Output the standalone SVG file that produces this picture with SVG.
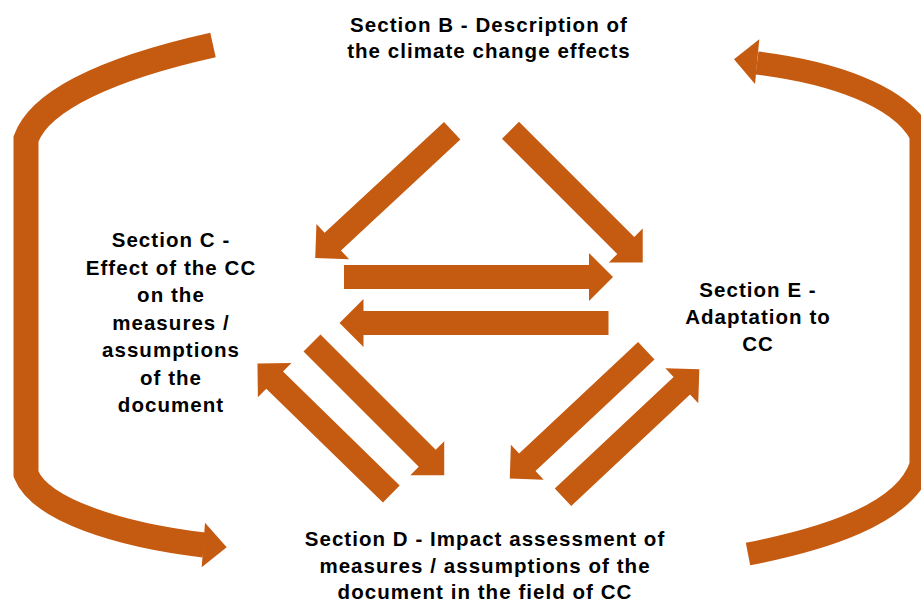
<svg xmlns="http://www.w3.org/2000/svg" xmlns:xlink="http://www.w3.org/1999/xlink" width="921" height="604" viewBox="0 0 921 604">
<style>
.lbl{font-family:"Liberation Sans",Arial,sans-serif;font-weight:bold;font-size:20.5px;fill:#000;text-anchor:middle;letter-spacing:1.05px}
.arr{fill:#C55A11}
.curve{fill:none;stroke:#C55A11;stroke-linejoin:miter}
</style>
<defs>
<path id="arrD" d="M0,-12 H163 V-24 L187,0 L163,24 V12 H0 Z"/>
<path id="arrH" d="M0,-12 H245 V-24 L269,0 L245,24 V12 H0 Z"/>
</defs>
<rect width="921" height="604" fill="#fff"/>
<g id="connectors">
  <g id="loop-left">
    <path class="curve" stroke-width="25" d="M213,45 C110,68 40,100 26,139 L26,474 C40,510 120,535 204,545"/>
    <polygon class="arr" points="205,522.7 226.7,547.3 201.7,567.3"/>
  </g>
  <g id="loop-right">
    <path class="curve" stroke-width="23" d="M757,63 C830,72 900,95 921,135 L921,465 C905,515 820,540 748,554"/>
    <polygon class="arr" points="759.3,39.3 734,59.3 755,84"/>
  </g>
  <use class="arr" xlink:href="#arrD" transform="translate(452.2,130.7) rotate(137.1)"/>
  <use class="arr" xlink:href="#arrD" transform="translate(510.5,130.3) rotate(45)"/>
  <use class="arr" xlink:href="#arrH" transform="translate(344,277)"/>
  <use class="arr" xlink:href="#arrH" transform="translate(608.5,323) rotate(180)"/>
  <use class="arr" xlink:href="#arrD" transform="translate(312,343) rotate(45)"/>
  <use class="arr" xlink:href="#arrD" transform="translate(391.3,494) rotate(224.3)"/>
  <use class="arr" xlink:href="#arrD" transform="translate(646.3,350.8) rotate(136.9)"/>
  <use class="arr" xlink:href="#arrD" transform="translate(563,497.3) rotate(-43.2)"/>
</g>
<g id="node-B">
  <text class="lbl" x="489" y="31.5">Section B - Description of</text>
  <text class="lbl" x="489" y="58">the climate change effects</text>
</g>
<g id="node-C">
  <text class="lbl" x="171" y="247">Section C -</text>
  <text class="lbl" x="171" y="274.5">Effect of the CC</text>
  <text class="lbl" x="171" y="302">on the</text>
  <text class="lbl" x="171" y="329.5">measures /</text>
  <text class="lbl" x="171" y="357">assumptions</text>
  <text class="lbl" x="171" y="384.5">of the</text>
  <text class="lbl" x="171" y="412">document</text>
</g>
<g id="node-E">
  <text class="lbl" x="758" y="297">Section E -</text>
  <text class="lbl" x="758" y="324">Adaptation to</text>
  <text class="lbl" x="758" y="351">CC</text>
</g>
<g id="node-D">
  <text class="lbl" x="485" y="546">Section D - Impact assessment of</text>
  <text class="lbl" x="485" y="572.5">measures / assumptions of the</text>
  <text class="lbl" x="485" y="599">document in the field of CC</text>
</g>
</svg>
